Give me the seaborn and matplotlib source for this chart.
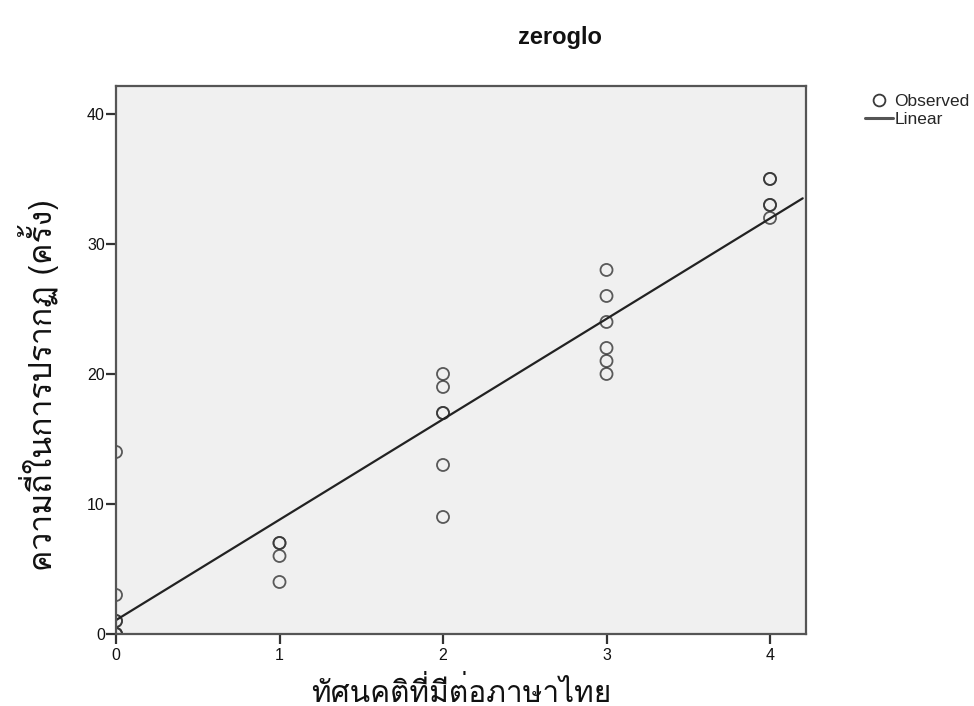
import numpy as np
import pandas as pd
import seaborn as sns
import matplotlib
matplotlib.use("Agg")
import matplotlib.pyplot as plt
from matplotlib import font_manager
from matplotlib.lines import Line2D

# ---- data ----
attitude = [0, 0, 0, 0, 0, 0, 0,
            1, 1, 1, 1,
            2, 2, 2, 2, 2, 2,
            3, 3, 3, 3, 3, 3,
            4, 4, 4, 4, 4]
frequency = [0, 0, 0, 1, 1, 3, 14,
             4, 6, 7, 7,
             9, 13, 17, 17, 19, 20,
             20, 21, 22, 24, 26, 28,
             32, 33, 33, 35, 35]
x_ticks = [0, 1, 2, 3, 4]
y_ticks = [0, 10, 20, 30, 40]
title = "zeroglo"
x_label = "ทัศนคติที่มีต่อภาษาไทย"
y_label = "ความถี่ในการปรากฏ (ครั้ง)"
legend_labels = ["Observed", "Linear"]

df = pd.DataFrame({"x": attitude, "y": frequency})

# find a font covering Thai
thai_family = None
try:
    from fontTools.ttLib import TTFont
    for fe in font_manager.fontManager.ttflist:
        try:
            f = TTFont(fe.fname, fontNumber=0, lazy=True)
            cmap = f.getBestCmap()
            if cmap and 0x0E04 in cmap and 0x0E35 in cmap:
                thai_family = fe.name
                break
        except Exception:
            continue
except Exception:
    pass

sns.set_theme(style="white")
base_fam = ["Liberation Sans", "DejaVu Sans"]
plt.rcParams["font.family"] = base_fam
thai_fam = ([thai_family] if thai_family else []) + ["DejaVu Sans"]

fig = plt.figure(figsize=(9.74, 7.06), dpi=100)
ax = fig.add_axes([0.1191, 0.102, 0.7084, 0.7762])
ax.set_facecolor("#F0F0F0")

sns.regplot(data=df, x="x", y="y", ax=ax, ci=None, truncate=False,
            scatter_kws=dict(s=75, facecolors="none", edgecolors="#333333", linewidths=1.3,
                             clip_on=True),
            line_kws=dict(color="#222222", lw=1.6))

ax.set_xlim(0, 4.22)
ax.set_ylim(0, 42.15)
ax.set_xticks(x_ticks)
ax.set_yticks(y_ticks)
ax.tick_params(axis="both", direction="out", length=7, width=1.6, color="#333333",
               labelsize=11.5, labelcolor="#111111", bottom=True, left=True, pad=1)
ax.tick_params(axis="x", pad=3)
for s in ax.spines.values():
    s.set_color("#555555")
    s.set_linewidth(1.6)

ax.set_xlabel(x_label, family=thai_fam, fontsize=21.5, fontweight="light",
              labelpad=10, color="#111111")
ax.set_ylabel(y_label, family=thai_fam, fontsize=23, fontweight="light", color="#111111")
ax.yaxis.set_label_coords(-0.082, 0.455)
fig.text(0.575, 0.947, title, ha="center", va="center", fontsize=17, fontweight="bold",
         color="#111111")

handles = [Line2D([], [], marker="o", ls="none", mfc="none", mec="#3a3a3a", ms=8.5, mew=1.3),
           Line2D([], [], color="#555555", lw=2.2)]
leg = fig.legend(handles, legend_labels, loc="upper left", bbox_to_anchor=(0.881, 0.877),
                 frameon=False, fontsize=12.5, handlelength=1.6, handletextpad=0.1,
                 labelspacing=0.15, borderaxespad=0)

fig.savefig("out.png", dpi=100)
